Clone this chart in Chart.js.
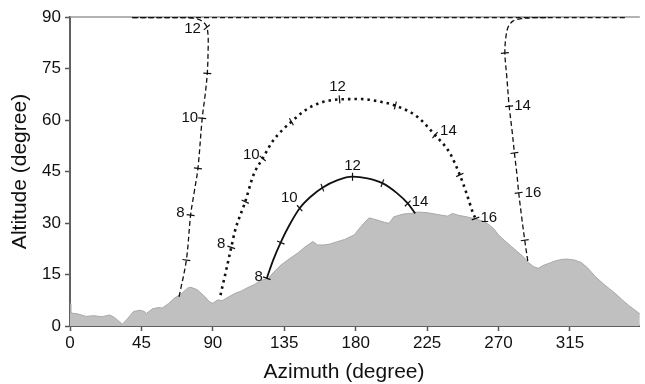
<!DOCTYPE html>
<html>
<head>
<meta charset="utf-8">
<script src="https://cdn.jsdelivr.net/npm/chart.js@4.4.1/dist/chart.umd.min.js"></script>
<style>
  body { margin: 0; background: #fff; }
  canvas { display: block; }
</style>
</head>
<body>
<canvas id="sunPathChart" width="645" height="384"></canvas>
<script>
// axis ticks
var azimuthTicks = [0, 45, 90, 135, 180, 225, 270, 315];
var altitudeTicks = [0, 15, 30, 45, 60, 75, 90];

// skyline (horizon profile)
var terrainAz = [0, 0.5, 5, 10, 15, 20, 25, 28, 33, 36, 40, 44, 47, 48, 52, 56, 58, 62, 66, 70, 74, 76, 80, 84, 88, 90,
  93, 96, 100, 104, 108, 112, 116, 120, 125, 129, 133, 138, 143.7, 148, 153, 156, 160, 164, 168, 173, 179, 185, 188.5,
  191, 194.7, 198, 201, 204, 210, 215, 219, 225, 230, 235, 238, 241, 245, 250, 255, 260, 264, 267, 270, 274, 278, 282,
  286, 289, 292, 295, 298, 302, 306, 310, 313, 318, 322, 326, 331, 336, 340, 344, 348, 352, 356, 360];
var terrainAlt = [6.5, 3.8, 3.5, 2.8, 3.0, 2.7, 3.2, 2.5, 0.5, 2.0, 4.2, 4.6, 4.2, 3.6, 5.0, 5.4, 5.2, 6.5, 8.2, 9.3, 11.0, 11.3, 10.6, 9.0, 7.0, 6.6,
  7.6, 7.4, 8.5, 9.5, 10.2, 11.2, 12.0, 13.2, 13.9, 16.0, 17.8, 19.5, 21.3, 23.0, 24.6, 23.6, 23.6, 23.9, 24.5, 25.2, 26.5, 29.9, 31.5,
  31.2, 30.7, 30.2, 29.9, 31.8, 32.6, 32.8, 33.2, 33.0, 32.6, 32.2, 32.0, 32.8, 32.2, 31.8, 31.2, 30.6, 29.5, 28.3, 26.5, 24.8, 23.2, 21.6,
  20.0, 18.4, 17.3, 16.8, 17.6, 18.3, 19.0, 19.4, 19.5, 19.2, 18.5, 17.0, 14.4, 12.3, 10.8, 9.3, 7.6, 6.0, 4.6, 3.2];

// low sun path (solid)
var lowPathAz = [124, 128, 133, 138, 144.7, 152, 159, 168.6, 178, 187.4, 196.8, 206, 212.8, 217.5];
var lowPathAlt = [13.9, 19.2, 24.6, 29.2, 34.3, 37.8, 40.3, 42.5, 43.5, 43.0, 41.6, 38.7, 35.7, 32.8];
var lowHourAz = [124, 132.8, 144.7, 159, 178, 196.8, 212.8];
var lowHourAlt = [13.9, 24.3, 34.3, 40.3, 43.5, 41.6, 35.7];
var lowHourLabels = ['8', '', '10', '', '12', '', '14'];

// middle sun path (dotted)
var midPathAz = [94.8, 98.9, 101.6, 104, 110.4, 115.6, 121.4, 128, 139.5, 152, 169.8, 183.4, 195.9, 205, 218.6, 230, 239.4, 245.6, 249.8, 254, 256];
var midPathAlt = [9.0, 17.3, 22.9, 27.8, 36.2, 44.0, 48.8, 54.0, 59.5, 63.9, 66.0, 66.1, 65.3, 64.2, 61.0, 55.6, 50.3, 44.0, 38.7, 32.8, 30.9];
var midHourAz = [101.6, 110.4, 121.4, 139.5, 169.8, 205, 230, 245.6, 255.5];
var midHourAlt = [22.9, 36.2, 48.8, 59.5, 66.0, 64.2, 55.6, 44.0, 31.3];
var midHourLabels = ['8', '', '10', '', '12', '', '14', '', '16'];

// high sun path (dashed), morning branch, zenith run, afternoon branch
var highAmAz = [68.7, 73.3, 76, 78.3, 80.6, 83.3, 85.2, 86.5, 87, 87, 86, 83.5, 80, 74, 39];
var highAmAlt = [8.5, 19.2, 32.3, 39.1, 45.9, 60.5, 67.5, 73.6, 80, 84.5, 87.3, 88.7, 89.5, 89.8, 89.85];
var highTopAz = [39, 350];
var highTopAlt = [89.85, 89.85];
var highPmAz = [300, 292, 284, 279, 276, 274.6, 274, 275.3, 276.7, 278.5, 280, 281.5, 282.7, 284.5, 286.5, 288.5];
var highPmAlt = [89.85, 89.8, 89.5, 88.8, 87, 84, 79.5, 72, 64, 57, 50.4, 44.5, 38.8, 32, 25, 18.7];
var highHourAz = [73.3, 76, 80.6, 83.3, 86.5, 86.2, 274, 276.7, 280, 282.7, 286.5];
var highHourAlt = [19.2, 32.3, 45.9, 60.5, 73.6, 87, 79.5, 64, 50.4, 38.8, 25];
var highHourLabels = ['', '8', '', '10', '', '12', '', '14', '', '16', ''];

// tick-mark rotation and label placement (dx, dy, align) for each hour marker
var lowRot = [20, 23, 48, 70, 90, 110, 135];
var midRot = [18, 25, 40, 60, 85, 105, 130, 155, 160];
var highRot = [8, 8, 8, 6, 4, -40, -6, -6, -8, -8, -8];
var lowPlace = [[-4, -1, 'right'], null, [-2, -10, 'right'], null, [0, -11, 'center'], null, [4, -2, 'left']];
var midPlace = [[-6, -4, 'right'], null, [-3, -4, 'right'], null, [-2, -13, 'center'], null, [5, -4, 'left'], null, [5, -1, 'left']];
var highPlace = [null, [-6, -2, 'right'], null, [-4, 0, 'right'], null, [-6, 2, 'right'], null, [5, 0, 'left'], null, [6, 0, 'left'], null];

function zip(xs, ys) {
    return xs.map(function(x, i) { return { x: x, y: ys[i] }; });
}

var fontFamily = "'Liberation Sans', Arial, sans-serif";
var tickFont = { family: fontFamily, size: 17 };
var titleFont = { family: fontFamily, size: 21 };

function pathSet(xs, ys, width, dash, interp) {
    return {
        data: zip(xs, ys),
        showLine: true,
        borderColor: '#111',
        borderWidth: width,
        borderDash: dash,
        pointRadius: 0,
        tension: 0.35,
        cubicInterpolationMode: interp,
        order: 2
    };
}

function hourSet(xs, ys, rot, labels, place) {
    return {
        data: zip(xs, ys),
        showLine: false,
        pointStyle: 'line',
        pointRadius: 4,
        pointBorderWidth: 1.2,
        pointBorderColor: '#111',
        pointRotation: rot,
        hourLabels: labels,
        labelPlace: place,
        order: 1
    };
}

// hour numbers beside the tick marks, the top frame line and the x title
var hourLabelPlugin = {
    id: 'hourLabels',
    beforeDatasetsDraw: function(chart) {
        var c = chart.ctx, a = chart.chartArea;
        c.save();
        c.strokeStyle = '#9a9a9a';
        c.lineWidth = 1.5;
        c.beginPath();
        c.moveTo(a.left, a.top);
        c.lineTo(a.right, a.top);
        c.stroke();
        c.restore();
    },
    afterDatasetsDraw: function(chart) {
        var c = chart.ctx;
        c.save();
        c.font = "15px " + fontFamily;
        c.fillStyle = '#111';
        c.textBaseline = 'middle';
        chart.data.datasets.forEach(function(ds, i) {
            if (!ds.hourLabels) return;
            var meta = chart.getDatasetMeta(i);
            ds.hourLabels.forEach(function(txt, j) {
                var p = ds.labelPlace[j];
                if (!txt || !p) return;
                var el = meta.data[j];
                c.textAlign = p[2];
                c.fillText(txt, el.x + p[0], el.y + p[1]);
            });
        });
        c.font = "21px " + fontFamily;
        c.textAlign = 'center';
        c.fillText('Azimuth (degree)', 344, 372);
        c.restore();
    }
};

var canvas = document.getElementById('sunPathChart');
var ctx = canvas.getContext('2d');
var sunPathChart = new Chart(ctx, {
    type: 'scatter',
    data: {
        datasets: [
            hourSet(lowHourAz, lowHourAlt, lowRot, lowHourLabels, lowPlace),
            hourSet(midHourAz, midHourAlt, midRot, midHourLabels, midPlace),
            hourSet(highHourAz, highHourAlt, highRot, highHourLabels, highPlace),
            pathSet(lowPathAz, lowPathAlt, 1.8, [], 'monotone'),
            pathSet(midPathAz, midPathAlt, 2.6, [2.5, 4], 'monotone'),
            pathSet(highAmAz, highAmAlt, 1.3, [5, 3], 'default'),
            pathSet(highTopAz, highTopAlt, 1.3, [5, 3], 'default'),
            pathSet(highPmAz, highPmAlt, 1.3, [5, 3], 'default'),
            {
                data: zip(terrainAz, terrainAlt),
                showLine: true,
                fill: 'origin',
                backgroundColor: '#c0c0c0',
                borderColor: '#a8a8a8',
                borderWidth: 1,
                pointRadius: 0,
                tension: 0,
                order: 5
            }
        ]
    },
    options: {
        responsive: false,
        animation: false,
        layout: { padding: { top: 17, right: 0, left: 0, bottom: 0 } },
        plugins: {
            legend: { display: false },
            tooltip: { enabled: false }
        },
        scales: {
            x: {
                type: 'linear',
                min: 0,
                max: 359,
                afterBuildTicks: function(scale) {
                    scale.ticks = azimuthTicks.map(function(v) { return { value: v }; });
                },
                afterFit: function(scale) { scale.height = 58; },
                grid: { drawOnChartArea: false, tickLength: 5, tickColor: '#555', tickWidth: 1.5 },
                border: { color: '#606060', width: 2 },
                ticks: { font: tickFont, color: '#111', padding: 2, maxRotation: 0 }
            },
            y: {
                type: 'linear',
                min: 0,
                max: 90,
                afterBuildTicks: function(scale) {
                    scale.ticks = altitudeTicks.map(function(v) { return { value: v }; });
                },
                afterFit: function(scale) { scale.width = 70; },
                grid: { drawOnChartArea: false, tickLength: 5, tickColor: '#555', tickWidth: 1.5 },
                border: { color: '#606060', width: 2 },
                ticks: { font: tickFont, color: '#111', padding: 4 },
                title: { display: true, text: 'Altitude (degree)', font: titleFont, color: '#111', padding: { top: 8, bottom: 0 } }
            }
        }
    },
    plugins: [hourLabelPlugin]
});
</script>
</body>
</html>
